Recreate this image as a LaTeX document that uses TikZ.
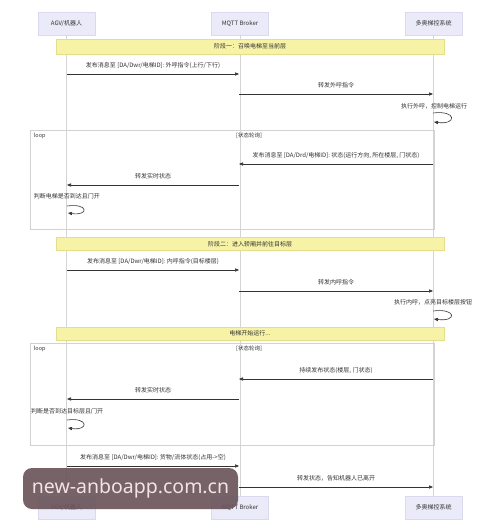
\documentclass[tikz,border=0pt]{standalone}
\usepackage{fontspec}
\setmainfont{Noto Sans CJK SC}
\newfontfamily\wmfont{Noto Sans}
\usetikzlibrary{arrows.meta}
\definecolor{actfill}{HTML}{EAEAF8}
\definecolor{actline}{HTML}{DCD8F0}
\definecolor{notefill}{HTML}{F7F3A6}
\definecolor{noteline}{HTML}{E4DE8A}
\definecolor{lifecol}{HTML}{D4D4D4}
\definecolor{msgcol}{HTML}{333333}
\definecolor{framecol}{HTML}{D2D2D2}
\definecolor{wmfill}{HTML}{6B555B}
\definecolor{wmtext}{HTML}{F2E4E4}
\begin{document}
\begin{tikzpicture}[x=1pt,y=-1pt,
  actor/.style={draw=actline, fill=actfill, minimum width=57pt, minimum height=23pt, inner sep=0pt, font=\fontsize{6}{7}\selectfont, text=msgcol},
  band/.style={draw=noteline, fill=notefill, minimum width=388pt, inner sep=0pt, font=\fontsize{6}{7}\selectfont, text=msgcol},
  loopframe/.style={draw=framecol, line width=0.6pt, minimum width=404pt, inner sep=0pt},
  life/.style={draw=lifecol, line width=0.6pt},
  msg/.style={draw=msgcol, line width=0.6pt, -{Triangle[length=4pt,width=3.2pt]}},
  lbl/.style={font=\fontsize{6}{7}\selectfont, text=msgcol, inner sep=0pt},
  small/.style={font=\fontsize{5.5}{6}\selectfont, text=msgcol, inner sep=0pt}]
\useasboundingbox[fill=white] (0,0) rectangle (500,531);

% participants
\node[actor] (aT) at (66.5,23.5) {AGV/机器人};
\node[actor] (bT) at (240,23.5) {MQTT Broker};
\node[actor] (cT) at (433.5,23.5) {多奥梯控系统};
\node[actor] (aB) at (66.5,507.5) {AGV/机器人};
\node[actor] (bB) at (240,507.5) {MQTT Broker};
\node[actor] (cB) at (433.5,507.5) {多奥梯控系统};

% lifelines
\draw[life] (aT.south) -- (aB.north);
\draw[life] (bT.south) -- (bB.north);
\draw[life] (cT.south) -- (cB.north);

% loop frames
\node[loopframe, minimum height=99pt] (L1) at (232,179.5) {};
\node[small, anchor=north west] (L1t) at ([xshift=4pt,yshift=-3pt]L1.north west) {loop};
\node[small, anchor=north] (L1c) at ([xshift=17pt,yshift=-3pt]L1.north) {[状态轮询]};
\node[loopframe, minimum height=102pt] (L2) at (232,394) {};
\node[small, anchor=north west] (L2t) at ([xshift=4pt,yshift=-3pt]L2.north west) {loop};
\node[small, anchor=north] (L2c) at ([xshift=17pt,yshift=-3pt]L2.north) {[状态轮询]};

% notes
\node[band, minimum height=15pt] (n1) at (250,46.5) {阶段一：召唤电梯至当前层};
\node[band, minimum height=13pt] (n2) at (250,244) {阶段二：进入轿厢并前往目标层};
\node[band, minimum height=13pt] (n3) at (250,333.5) {电梯开始运行...};

% anchor coordinates on lifelines
\coordinate (a1) at (67,74);   \coordinate (b1) at (239,74);
\coordinate (b2) at (239,94);  \coordinate (c2) at (433,94);
\coordinate (c3) at (433,113); \coordinate (c3e) at (434,122);
\coordinate (c4) at (433,164); \coordinate (b4) at (239,164);
\coordinate (b5) at (239,185); \coordinate (a5) at (67,185);
\coordinate (a6) at (67,206);  \coordinate (a6e) at (68,213);
\coordinate (a7) at (67,270);  \coordinate (b7) at (239,270);
\coordinate (b8) at (239,291); \coordinate (c8) at (433,291);
\coordinate (c9) at (433,311); \coordinate (c9e) at (434,319);
\coordinate (c10) at (433,379); \coordinate (b10) at (239,379);
\coordinate (b11) at (239,399); \coordinate (a11) at (67,399);
\coordinate (a12) at (67,420); \coordinate (a12e) at (68,428);
\coordinate (a13) at (67,466); \coordinate (b13) at (239,466);
\coordinate (b14) at (239,487); \coordinate (c14) at (433,487);

% messages
\draw[msg] (a1) -- node[lbl, above=5.5pt] (m1) {发布消息至 [DA/Dwr/电梯ID]: 外呼指令(上行/下行)} (b1);
\draw[msg] (b2) -- node[lbl, above=5.5pt] (m2) {转发外呼指令} (c2);
\node[lbl] (m3) at (434,106) {执行外呼，控制电梯运行};
\draw[msg] (c3) .. controls (457,110) and (457,125) .. (c3e);
\draw[msg] (c4) -- node[lbl, above=5.5pt] (m4) {发布消息至 [DA/Drd/电梯ID]: 状态(运行方向, 所在楼层, 门状态)} (b4);
\draw[msg] (b5) -- node[lbl, above=5.5pt] (m5) {转发实时状态} (a5);
\node[lbl] (m6) at (67,196) {判断电梯是否到达且门开};
\draw[msg] (a6) .. controls (89,203) and (89,216) .. (a6e);
\draw[msg] (a7) -- node[lbl, above=5.5pt] (m7) {发布消息至 [DA/Dwr/电梯ID]: 内呼指令(目标楼层)} (b7);
\draw[msg] (b8) -- node[lbl, above=5.5pt] (m8) {转发内呼指令} (c8);
\node[lbl] (m9) at (433,302) {执行内呼，点亮目标楼层按钮};
\draw[msg] (c9) .. controls (457,308) and (457,322) .. (c9e);
\draw[msg] (c10) -- node[lbl, above=5.5pt] (m10) {持续发布状态(楼层, 门状态)} (b10);
\draw[msg] (b11) -- node[lbl, above=5.5pt] (m11) {转发实时状态} (a11);
\node[lbl] (m12) at (67,411) {判断是否到达目标层且门开};
\draw[msg] (a12) .. controls (89,417) and (89,431) .. (a12e);
\draw[msg] (a13) -- node[lbl, above=5.5pt] (m13) {发布消息至 [DA/Dwr/电梯ID]: 货物/流体状态(占用->空)} (b13);
\draw[msg] (b14) -- node[lbl, above=5.5pt] (m14) {转发状态，告知机器人已离开} (c14);

% watermark
\node[fill=wmfill, fill opacity=0.92, text opacity=1, rounded corners=9pt, minimum width=215pt, minimum height=41pt, inner sep=0pt, text=wmtext, font=\wmfont\fontsize{19.5}{20}\selectfont] (wm) at (130.5,488.5) {new-anboapp.com.cn};
\end{tikzpicture}
\end{document}
